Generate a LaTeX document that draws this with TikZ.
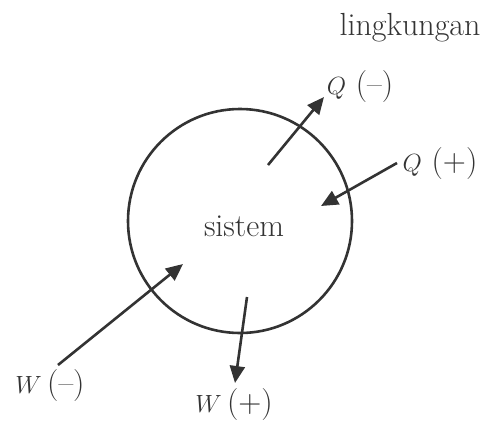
\documentclass[tikz,border=0pt]{standalone}
\usetikzlibrary{arrows.meta}
\definecolor{ink}{HTML}{333333}
\begin{document}
\begin{tikzpicture}[x=1pt,y=-1pt,
  lbl/.style={font=\fontsize{32}{35}\selectfont, text=ink, inner sep=0pt},
  flow/.style={draw=ink, line width=2.6pt, -{Triangle[length=17pt,width=15pt]}}]
\useasboundingbox (0,0) rectangle (487,424);
\node[draw=ink, line width=2.6pt, circle, minimum size=224pt, inner sep=0pt] (sys) at (240,221) {};
\node[lbl] (sistem) at (244,226) {sistem};
\node[lbl] (env) at (410,28) {lingkungan};
\node[lbl] (qm) at (360,87) {$Q$ (--)};
\node[lbl] (qp) at (440,164) {$Q$ (+)};
\node[lbl] (wm) at (50,386) {$W$\,(--)};
\node[lbl] (wp) at (234,405) {$W$\,(+)};
\coordinate (qmS) at (268,165);
\coordinate (qmE) at (324,97);
\coordinate (qpS) at (397,163);
\coordinate (qpE) at (321,206);
\coordinate (wmS) at (58,365);
\coordinate (wmE) at (183,264);
\coordinate (wpS) at (247,297);
\coordinate (wpE) at (235,383);
\draw[flow] (qmS) -- (qmE);
\draw[flow] (qpS) -- (qpE);
\draw[flow] (wmS) -- (wmE);
\draw[flow] (wpS) -- (wpE);
\end{tikzpicture}
\end{document}
